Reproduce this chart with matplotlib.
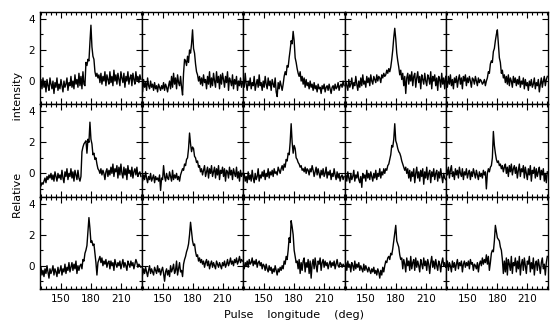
import numpy as np
import matplotlib
matplotlib.use("Agg")
import matplotlib.pyplot as plt
from matplotlib.ticker import MultipleLocator

# pulse longitude, one sample per degree
longitude = np.arange(129, 231)

# ---------------- row 1
p11 = [-0.6, 0.1, -0.5, 0.2, -0.4, 0.0, -0.7, 0.1, -0.3, -0.6,
       0.2, -0.2, -0.5, 0.0, -0.8, -0.1, -0.4, 0.2, -0.6, -0.2,
       -0.5, 0.1, -0.3, -0.7, 0.0, -0.4, -0.2, 0.2, -0.6, -0.1,
       -0.3, 0.3, -0.4, 0.0, -0.5, 0.4, -0.2, 0.1, -0.4, 0.5,
       -0.3, 0.3, -0.5, 0.6, -0.2, -0.3, 1.2, 1.0, 1.4, 1.3,
       2.5, 3.6, 2.2, 1.6, 1.4, 0.6, 0.3, 0.5, 0.2, 0.4,
       -0.1, 0.5, -0.2, 0.3, 0.0, 0.6, -0.3, 0.4, 0.1, -0.2,
       0.6, -0.1, 0.3, -0.3, 0.7, 0.0, 0.4, -0.2, 0.5, 0.1,
       -0.3, 0.6, 0.2, -0.1, 0.5, -0.4, 0.3, 0.0, 0.6, -0.2,
       0.2, 0.4, -0.3, 0.5, 0.1, -0.2, 0.6, 0.0, 0.3, -0.1,
       0.4, 0.1]
p12 = [-0.3, -0.7, 0.1, -0.4, -0.1, -0.6, 0.2, -0.3, -0.5, 0.0,
       -0.4, -0.2, -0.6, -0.1, -0.5, -0.3, -0.7, -0.2, -0.4, -0.6,
       -0.3, -0.5, -0.1, -0.6, -0.2, -0.4, -0.7, -0.3, 0.0, -0.5,
       0.3, -0.4, 0.5, -0.2, 0.2, -0.5, 0.4, -0.1, -0.3, 0.3,
       -0.4, -0.9, 0.5, 1.4, 1.3, 1.0, 1.6, 1.2, 2.0, 1.8,
       2.4, 3.3, 2.1, 1.8, 1.1, 0.6, 0.4, 0.0, 0.3, -0.2,
       0.2, -0.3, 0.4, -0.1, 0.1, -0.5, 0.3, -0.2, 0.6, -0.4,
       0.2, -0.3, 0.5, 0.0, -0.4, 0.6, -0.1, 0.3, -0.5, 0.4,
       -0.2, 0.5, 0.1, -0.4, 0.3, -0.1, 0.6, -0.6, 0.2, 0.0,
       -0.3, 0.4, -0.5, 0.1, -0.2, 0.3, -0.6, 0.0, -0.3, 0.2,
       -0.4, -0.1]
p13 = [0.1, -0.4, 0.5, -0.2, -0.6, 0.0, -0.3, 0.2, -0.5, -0.1,
       -0.3, 0.3, -0.6, -0.2, 0.1, -0.4, 0.4, -0.3, -0.1, -0.6,
       0.0, -0.4, 0.3, -0.2, -0.5, 0.2, -0.3, 0.0, -0.6, 0.1,
       -0.2, -0.4, 0.2, -0.7, -1.0, -0.1, -0.5, 0.0, -0.3, -0.6,
       -0.2, 0.3, 0.6, 0.4, 1.0, 0.9, 1.5, 2.0, 2.6, 2.4,
       3.2, 2.6, 1.5, 1.2, 0.8, 0.5, 0.3, 0.6, 0.0, 0.3,
       -0.2, 0.2, -0.4, 0.1, -0.3, -0.1, -0.5, 0.0, -0.4, -0.2,
       -0.6, -0.1, -0.5, -0.3, -0.7, -0.2, -0.5, -0.4, -0.8, -0.3,
       -0.5, -0.2, -0.7, -0.4, -0.3, -0.6, -0.2, -0.5, -0.8, -0.4,
       -0.3, -0.6, -0.2, -0.5, -0.4, -0.1, -0.6, -0.3, -0.2, -0.4,
       0.0, -0.3]
p14 = [-0.5, 0.0, -0.3, -0.6, 0.1, -0.4, -0.2, 0.2, -0.5, -0.1,
       -0.3, 0.3, -0.2, -0.6, 0.0, -0.4, 0.2, -0.3, 0.4, -0.2,
       0.0, -0.4, 0.3, -0.1, 0.2, -0.3, 0.4, 0.0, -0.2, 0.3,
       0.1, -0.1, 0.4, 0.0, 0.3, 0.2, -0.1, 0.4, 0.2, 0.5,
       0.3, 0.4, 0.7, 0.5, 0.8, 0.6, 0.9, 1.4, 2.0, 2.8,
       3.4, 2.7, 1.8, 1.3, 0.9, 0.4, 0.7, 0.1, 0.5, -0.3,
       0.3, -0.8, 0.2, 0.5, -0.2, 0.4, 0.0, 0.6, -0.3, 0.3,
       0.5, -0.4, 0.2, 0.6, -0.1, 0.3, -0.5, 0.4, 0.1, -0.2,
       0.5, 0.0, -0.3, 0.4, 0.2, -0.2, 0.6, -0.5, 0.3, 0.0,
       0.4, -0.3, 0.2, -0.6, 0.3, 0.1, -0.4, 0.5, -0.2, 0.2,
       -0.5, 0.3]
p15 = [0.0, -0.4, 0.3, -0.2, 0.4, -0.3, 0.1, -0.5, 0.2, -0.1,
       0.3, -0.4, 0.1, 0.4, -0.2, 0.2, -0.5, 0.3, 0.0, 0.4,
       -0.3, 0.2, -0.1, 0.3, 0.0, -0.4, 0.2, 0.1, -0.2, 0.3,
       0.0, -0.3, 0.2, -0.1, 0.1, 0.0, -0.2, -0.1, 0.1, -0.3,
       0.0, 0.2, 0.6, 0.5, 1.1, 1.3, 1.2, 1.9, 2.1, 2.6,
       3.0, 3.3, 2.4, 1.5, 1.2, 0.5, 0.7, 0.2, 0.4, -0.1,
       0.3, -0.2, 0.4, -0.3, 0.2, 0.0, -0.4, 0.3, -0.1, 0.2,
       -0.3, 0.1, -0.2, 0.3, -0.4, 0.0, -0.2, 0.2, -0.5, 0.1,
       -0.3, -0.1, -0.6, 0.0, -0.3, 0.1, -0.4, -0.2, 0.2, -0.5,
       -0.1, -0.3, 0.1, -0.7, -0.2, 0.2, -0.4, 0.0, 0.3, -0.3,
       0.1, 0.3]

# ---------------- row 2
p21 = [-0.9, -0.8, -0.6, -0.7, -0.5, -0.3, -0.6, -0.2, -0.4, -0.1,
       -0.3, 0.0, -0.4, -0.1, -0.5, 0.1, -0.2, -0.5, 0.0, -0.3,
       -0.1, -0.4, 0.2, -0.3, -0.6, 0.1, -0.2, 0.3, -0.4, 0.0,
       -0.2, 0.3, -0.3, 0.1, -0.5, 0.2, -0.1, -0.4, 0.2, -0.3,
       -0.5, -0.2, 1.4, 1.7, 1.9, 2.0, 2.1, 1.3, 2.2, 2.0,
       3.3, 2.2, 1.9, 1.2, 1.3, 0.9, 1.0, 0.6, 0.3, 0.2,
       0.0, 0.3, -0.1, 0.2, 0.0, -0.4, 0.1, 0.3, -0.2, 0.2,
       -0.1, 0.4, 0.0, 0.6, -0.2, 0.3, 0.1, 0.5, -0.3, 0.4,
       -0.1, 0.6, 0.0, -0.3, 0.4, -0.1, 0.3, -0.4, 0.5, 0.0,
       0.2, -0.2, 0.4, -0.3, 0.1, 0.3, -0.1, 0.4, -0.2, 0.0,
       0.1, -0.2]
p22 = [-0.2, -0.5, -0.1, -0.4, 0.1, -0.3, -0.6, -0.2, -0.4, 0.0,
       -0.5, -0.3, -0.1, -0.6, -0.2, -0.4, -0.3, -0.5, -0.1, -1.1,
       -0.3, -0.4, 0.5, -0.2, -0.5, 0.0, -0.3, -0.4, 0.1, -0.2,
       -0.5, 0.2, -0.4, -0.1, -0.3, 0.0, -0.4, -0.2, -0.5, -0.1,
       0.1, 0.3, 0.2, 0.6, 0.5, 0.9, 1.0, 1.6, 2.6, 1.9,
       1.4, 1.7, 1.6, 1.1, 1.0, 0.7, 0.8, 0.4, 0.5, 0.1,
       0.3, -0.1, 0.2, 0.5, -0.2, 0.1, 0.4, -0.3, 0.3, 0.0,
       0.5, -0.2, 0.1, 0.4, -0.3, 0.3, -0.1, 0.5, -0.4, 0.2,
       0.0, 0.4, -0.2, 0.3, -0.5, 0.2, 0.1, -0.3, 0.4, -0.1,
       0.2, -0.4, 0.3, 0.0, -0.2, 0.4, -0.3, 0.1, -0.5, 0.2,
       -0.2, 0.0]
p23 = [-0.3, 0.0, -0.5, -0.2, -0.6, 0.1, -0.4, -0.1, -0.5, 0.2,
       -0.3, -0.6, 0.0, -0.4, -0.2, 0.3, -0.5, -0.1, -0.3, 0.1,
       -0.2, 0.2, -0.4, 0.0, -0.2, 0.3, -0.3, 0.1, -0.1, 0.2,
       -0.2, 0.3, 0.0, 0.1, -0.1, 0.4, 0.2, 0.0, 0.3, 0.5,
       0.2, 0.6, 0.4, 0.9, 0.8, 1.3, 1.2, 2.0, 3.2, 2.0,
       1.3, 1.8, 1.6, 1.0, 0.9, 0.7, 0.6, 0.4, 0.5, 0.2,
       0.3, 0.1, 0.4, 0.0, 0.3, 0.2, -0.1, 0.3, 0.1, 0.5,
       0.2, -0.2, 0.1, 0.4, -0.1, 0.3, 0.0, -0.3, 0.2, -0.1,
       0.3, -0.2, 0.0, 0.4, -0.3, 0.1, -0.1, 0.2, -0.4, 0.0,
       -0.2, 0.3, -0.1, -0.4, 0.1, -0.3, 0.0, -0.5, -0.2, -0.1,
       -0.4, -0.2]
p24 = [-0.4, -0.1, -0.5, 0.1, -0.3, -0.6, 0.0, -0.4, -0.2, 0.2,
       -0.5, -0.1, -0.3, 0.1, -0.4, -0.6, -0.2, -0.9, 0.0, -0.3,
       -0.1, -0.5, 0.2, -0.3, 0.0, -0.4, 0.1, -0.2, -0.5, 0.0,
       -0.3, 0.2, -0.4, 0.0, -0.2, 0.3, -0.3, 0.1, -0.1, 0.3,
       0.0, 0.3, 0.2, 0.5, 0.6, 0.9, 1.2, 1.8, 1.7, 2.2,
       3.2, 2.1, 1.9, 1.6, 1.4, 1.3, 1.1, 0.8, 0.6, 0.4,
       0.2, 0.4, 0.0, 0.3, -0.3, 0.2, -0.5, 0.1, -0.2, 0.3,
       -0.6, 0.0, 0.4, -0.3, 0.1, -0.5, 0.2, -0.2, 0.3, -0.7,
       0.1, -0.3, 0.4, -0.4, 0.0, 0.2, -0.6, 0.1, -0.2, 0.3,
       -0.4, 0.0, 0.2, -0.5, 0.1, -0.3, 0.3, -0.2, -0.6, 0.0,
       -0.3, -0.4]
p25 = [0.3, -0.1, 0.4, -0.3, 0.2, 0.5, -0.2, 0.1, -0.4, 0.3,
       -0.1, 0.2, -0.3, 0.4, 0.0, -0.2, 0.3, -0.4, 0.1, -0.1,
       0.3, -0.3, 0.0, 0.2, -0.4, 0.1, -0.2, 0.3, 0.0, -0.3,
       0.2, -0.1, -0.4, 0.1, -0.2, 0.0, -0.3, 0.2, -0.1, 0.1,
       -1.0, 0.0, 0.3, 0.1, 0.4, 0.5, 1.0, 2.7, 1.8, 1.3,
       0.9, 0.7, 0.8, 0.5, 0.6, 0.3, 0.5, 0.1, 0.4, 0.6,
       0.0, 0.4, -0.2, 0.5, 0.1, 0.6, -0.1, 0.3, 0.5, 0.0,
       0.4, -0.3, 0.2, 0.6, -0.2, 0.3, 0.1, 0.5, -0.3, 0.4,
       0.0, -0.4, 0.3, -0.1, 0.5, -0.5, 0.2, 0.0, 0.4, -0.3,
       0.3, -0.2, 0.1, 0.4, -0.4, 0.2, -0.1, 0.3, -0.5, 0.0,
       -0.6, 0.1]

# ---------------- row 3
p31 = [-0.5, -0.1, -0.6, -0.3, -0.7, -0.2, -0.5, 0.0, -0.4, -0.8,
       -0.2, -0.5, -0.3, 0.0, -0.6, -0.2, -0.4, -0.7, -0.1, -0.5,
       -0.3, 0.0, -0.6, -0.2, -0.4, 0.1, -0.5, -0.1, -0.3, 0.2,
       -0.4, -0.1, 0.2, -0.3, 0.1, -0.2, 0.3, -0.5, 0.0, -0.3,
       0.0, 0.1, -0.2, 0.4, 0.3, 0.8, 1.0, 1.3, 2.2, 3.1,
       2.4, 1.5, 1.6, 1.3, 1.4, 0.8, 0.2, -0.6, 0.2, 0.4,
       0.6, 0.2, 0.5, 0.0, 0.3, 0.1, 0.4, -0.1, 0.2, 0.3,
       -0.2, 0.3, 0.0, 0.2, -0.3, 0.4, 0.1, -0.1, 0.2, 0.0,
       0.3, -0.2, 0.1, 0.4, -0.1, 0.2, 0.0, -0.3, 0.3, 0.1,
       -0.1, 0.3, 0.0, 0.2, -0.2, 0.1, 0.4, 0.2, -0.1, 0.1,
       0.0, -0.1]
p32 = [-0.3, -0.6, -0.2, -0.5, -0.1, -0.4, -0.7, -0.3, 0.0, -0.5,
       -0.2, -0.4, -0.6, -0.1, -0.3, -0.5, 0.0, -0.4, -0.2, -0.6,
       -0.3, -0.1, -0.5, -1.0, -0.4, -0.2, -0.6, -0.3, -0.7, 0.0,
       -0.4, -0.2, 0.1, -0.5, -0.3, 0.3, -0.6, -0.2, 0.2, -0.4,
       -0.3, -0.7, 0.1, 0.4, 0.6, 0.9, 1.1, 1.4, 2.0, 2.8,
       2.2, 1.6, 1.3, 1.4, 0.9, 0.6, 0.7, 0.3, 0.5, 0.2,
       0.4, 0.1, 0.3, -0.1, 0.2, 0.4, 0.0, 0.3, -0.2, 0.1,
       0.3, -0.1, 0.2, 0.0, -0.2, 0.3, 0.1, -0.1, 0.2, 0.0,
       -0.2, 0.2, 0.0, 0.3, -0.1, 0.1, 0.4, 0.0, 0.2, 0.5,
       0.1, 0.3, 0.0, 0.4, 0.2, 0.5, 0.1, 0.3, 0.6, 0.2,
       0.4, 0.3]
p33 = [0.1, -0.2, 0.2, 0.0, 0.3, -0.1, 0.4, 0.1, 0.2, 0.5,
       0.0, 0.3, 0.1, 0.4, -0.1, 0.2, 0.3, 0.0, 0.2, -0.2,
       0.1, 0.0, -0.3, 0.1, -0.2, -0.4, 0.0, -0.3, -0.1, -0.5,
       -0.2, -0.4, 0.0, -0.3, -0.6, -0.2, -0.4, -0.1, -0.3, 0.0,
       -0.2, 0.3, 0.1, 0.6, 0.4, 1.0, 1.8, 1.5, 2.9, 2.5,
       2.0, 1.0, 0.6, 0.2, 0.3, -0.2, 0.4, -0.5, 0.2, -0.3,
       0.3, 0.5, -0.4, 0.2, -0.1, 0.4, -0.5, 0.3, -0.8, 0.1,
       0.4, -0.2, 0.5, 0.0, -0.4, 0.3, 0.1, 0.5, -0.3, 0.2,
       0.4, -0.1, 0.3, 0.0, 0.2, -0.2, 0.1, 0.3, -0.1, 0.2,
       0.0, 0.3, -0.2, 0.1, 0.4, 0.0, -0.1, 0.2, 0.1, -0.1,
       0.1, 0.0]
p34 = [-0.2, 0.2, -0.3, 0.3, -0.1, 0.1, -0.4, 0.2, 0.0, -0.3,
       0.3, -0.2, 0.1, -0.1, 0.2, -0.3, 0.0, -0.2, -0.4, 0.1,
       -0.3, 0.0, -0.2, -0.4, -0.1, -0.3, -0.5, -0.2, -0.4, -0.1,
       -0.5, -0.3, -0.6, -0.2, -0.4, -0.8, -0.3, -0.6, -0.1, -0.4,
       0.0, 0.3, 0.2, 0.5, 0.6, 0.4, 0.8, 0.7, 1.1, 1.6,
       2.1, 2.6, 1.6, 1.4, 1.2, 0.7, 0.4, 0.5, -0.2, 0.4,
       0.1, -0.4, 0.5, 0.0, 0.3, -0.3, 0.6, -0.2, 0.2, 0.4,
       -0.3, 0.5, -0.1, 0.3, 0.0, -0.4, 0.4, 0.1, -0.2, 0.5,
       0.0, 0.3, -0.3, 0.4, 0.1, -0.5, 0.2, 0.6, -0.1, 0.3,
       -0.2, 0.4, 0.0, -0.3, 0.3, 0.1, -0.4, 0.2, 0.5, 0.0,
       0.2, -0.1]
p35 = [-0.1, 0.3, -0.3, 0.2, 0.0, -0.4, 0.3, -0.1, 0.2, -0.3,
       0.1, 0.4, -0.2, 0.2, 0.0, 0.3, -0.4, 0.1, 0.3, -0.1,
       0.2, 0.0, 0.3, -0.2, 0.4, 0.1, 0.2, -0.3, 0.1, 0.0,
       -0.2, 0.2, -0.4, 0.1, 0.3, 0.0, 0.5, 0.1, 0.4, 0.2,
       0.7, 0.1, 0.6, -0.3, 0.2, 0.8, 1.0, 0.9, 1.6, 2.6,
       2.2, 1.8, 1.7, 1.6, 1.2, 1.0, 0.4, -0.5, 0.3, -0.4,
       0.5, -0.6, 0.4, 0.1, -0.3, 0.6, -0.5, 0.2, 0.0, 0.5,
       -0.4, 0.3, -0.2, 0.6, -0.6, 0.1, 0.4, -0.3, 0.5, 0.0,
       -0.5, 0.3, 0.1, 0.6, -0.4, 0.2, -0.2, 0.5, -0.6, 0.1,
       0.3, -0.3, 0.4, 0.0, -0.5, 0.2, 0.5, -0.2, 0.1, -0.6,
       0.2, 0.6]

profiles = [[p11, p12, p13, p14, p15],
            [p21, p22, p23, p24, p25],
            [p31, p32, p33, p34, p35]]

xticks = [150, 180, 210]
yticks = [0, 2, 4]

plt.rcParams['font.family'] = 'DejaVu Sans'
fig, axes = plt.subplots(3, 5, sharex=True, sharey=True, figsize=(5.6, 3.36), dpi=100)
fig.subplots_adjust(left=0.0714, right=0.9786, top=0.9643, bottom=0.1399,
                    wspace=0, hspace=0)

for r in range(3):
    for c in range(5):
        ax = axes[r][c]
        y = profiles[r][c]
        ax.plot(longitude[:len(y)], y, color='black', lw=1.0)
        ax.set_xlim(129, 230.7)
        ax.set_ylim(-1.5, 4.45)
        ax.set_xticks(xticks)
        ax.set_yticks(yticks)
        ax.xaxis.set_minor_locator(MultipleLocator(5))
        ax.yaxis.set_minor_locator(MultipleLocator(1))
        ax.tick_params(which='both', direction='in', top=True, right=True,
                       labelsize=7.5, width=0.8)
        ax.tick_params(which='major', length=4)
        ax.tick_params(which='minor', length=2)
        for s in ax.spines.values():
            s.set_linewidth(1.0)

fig.text(0.525, 0.0625, 'Pulse    longitude    (deg)', ha='center', va='center', fontsize=8)
fig.text(0.032, 0.57, 'Relative' + ' ' * 15 + 'intensity', ha='center', va='center',
         rotation=90, fontsize=8)

plt.savefig('out.png', dpi=100)
